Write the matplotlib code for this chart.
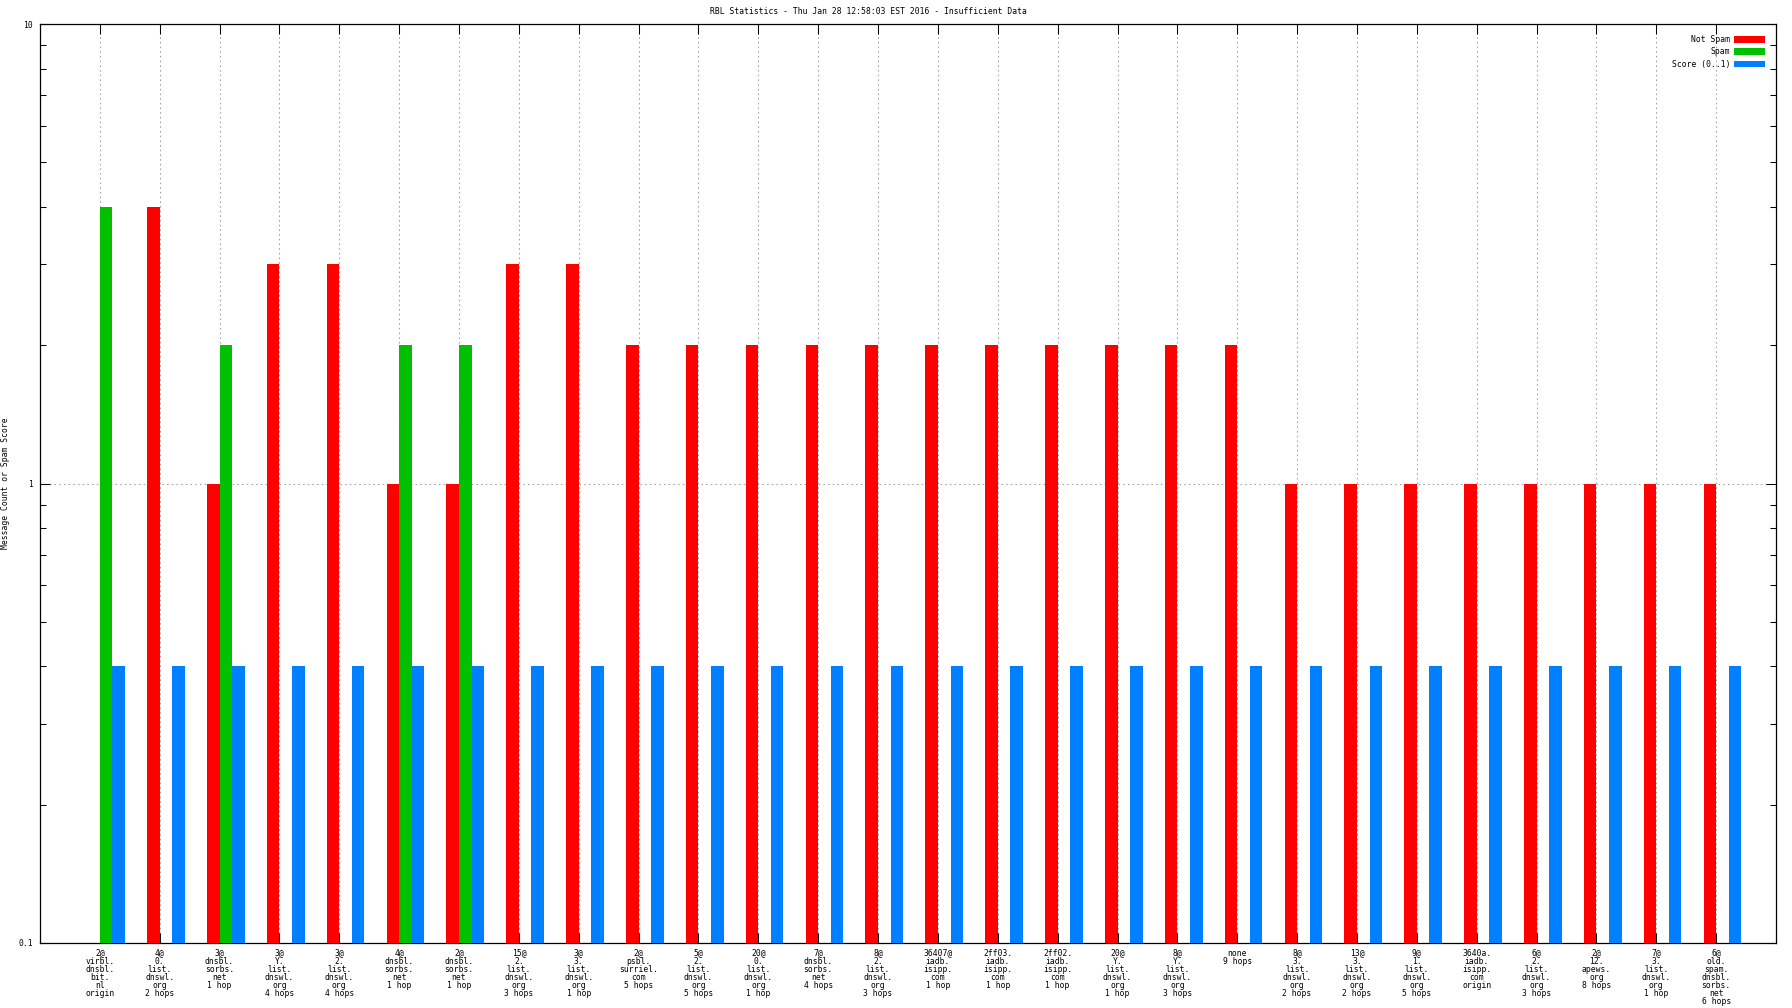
import matplotlib
matplotlib.use('Agg')
import matplotlib.pyplot as plt
import matplotlib.ticker as mticker
import numpy as np

# x categories (rbl hit @ list, hop)
labels = [
    "2@\nvirbl.\ndnsbl.\nbit.\nnl\norigin",
    "4@\n0.\nlist.\ndnswl.\norg\n2 hops",
    "3@\ndnsbl.\nsorbs.\nnet\n1 hop",
    "3@\nY.\nlist.\ndnswl.\norg\n4 hops",
    "3@\n2.\nlist.\ndnswl.\norg\n4 hops",
    "4@\ndnsbl.\nsorbs.\nnet\n1 hop",
    "2@\ndnsbl.\nsorbs.\nnet\n1 hop",
    "15@\n2.\nlist.\ndnswl.\norg\n3 hops",
    "3@\n3.\nlist.\ndnswl.\norg\n1 hop",
    "2@\npsbl.\nsurriel.\ncom\n5 hops",
    "5@\n2.\nlist.\ndnswl.\norg\n5 hops",
    "20@\n0.\nlist.\ndnswl.\norg\n1 hop",
    "7@\ndnsbl.\nsorbs.\nnet\n4 hops",
    "8@\n2.\nlist.\ndnswl.\norg\n3 hops",
    "36407@\niadb.\nisipp.\ncom\n1 hop",
    "2ff03.\niadb.\nisipp.\ncom\n1 hop",
    "2ff02.\niadb.\nisipp.\ncom\n1 hop",
    "20@\nY.\nlist.\ndnswl.\norg\n1 hop",
    "8@\nY.\nlist.\ndnswl.\norg\n3 hops",
    "none\n9 hops",
    "8@\n3.\nlist.\ndnswl.\norg\n2 hops",
    "13@\n3.\nlist.\ndnswl.\norg\n2 hops",
    "9@\n1.\nlist.\ndnswl.\norg\n5 hops",
    "3640a.\niadb.\nisipp.\ncom\norigin",
    "6@\n2.\nlist.\ndnswl.\norg\n3 hops",
    "2@\n12.\napews.\norg\n8 hops",
    "7@\n3.\nlist.\ndnswl.\norg\n1 hop",
    "6@\nold.\nspam.\ndnsbl.\nsorbs.\nnet\n6 hops",
]

notSpam = [0, 4, 1, 3, 3, 1, 1, 3, 3, 2, 2, 2, 2, 2, 2, 2, 2, 2, 2, 2,
           1, 1, 1, 1, 1, 1, 1, 1]
spam = [4, 0, 2, 0, 0, 2, 2, 0, 0, 0, 0, 0, 0, 0, 0, 0, 0, 0, 0, 0,
        0, 0, 0, 0, 0, 0, 0, 0]
score = [0.4] * 28

title = "RBL Statistics - Thu Jan 28 12:58:03 EST 2016 - Insufficient Data"

fnt = 'DejaVu Sans Mono'
fs = 5.8
ymin = 0.1

def heights(v):
    # bars drawn up from the bottom of the log axis
    a = np.array(v, dtype=float)
    a[a <= 0] = np.nan
    return a - ymin

fig = plt.figure(figsize=(17.92, 10.08), dpi=100)
ax = fig.add_axes([40/1792, 1 - 943/1008, (1776 - 40)/1792, (943 - 24)/1008])

x = np.arange(len(labels))
w = 0.21
ax.bar(x - w, heights(notSpam), w, bottom=ymin, align='edge', color='#ff0000', label='Not Spam', zorder=3)
ax.bar(x, heights(spam), w, bottom=ymin, align='edge', color='#00c000', label='Spam', zorder=3)
ax.bar(x + w, heights(score), w, bottom=ymin, align='edge', color='#0080ff', label='Score (0..1)', zorder=3)

ax.set_yscale('log')
ax.set_ylim(ymin, 10)
ax.set_xlim(-1, len(labels))

ax.yaxis.set_major_locator(mticker.FixedLocator([0.1, 1, 10]))
ax.yaxis.set_major_formatter(mticker.FixedFormatter(['0.1', '1', '10']))
ax.yaxis.set_minor_locator(mticker.LogLocator(base=10, subs=np.arange(2, 10)))
ax.yaxis.set_minor_formatter(mticker.NullFormatter())

ax.set_xticks(x)
ax.set_xticklabels(labels, fontsize=fs, family=fnt, linespacing=0.86, va='top')
for lab in ax.get_yticklabels():
    lab.set_fontsize(fs)
    lab.set_family(fnt)

ax.tick_params(which='both', direction='in', top=True, right=True, width=0.75, color='black')
ax.tick_params(which='major', length=7)
ax.tick_params(which='minor', length=4)
ax.tick_params(axis='x', pad=4)
ax.tick_params(axis='y', pad=5)

for sp in ax.spines.values():
    sp.set_linewidth(0.9)

ax.grid(True, which='major', color='#a0a0a0', linestyle=(0, (1.5, 3)), linewidth=0.75, zorder=0)
ax.set_axisbelow(True)

ax.set_ylabel("Message Count or Spam Score", fontsize=fs, family=fnt)
ax.yaxis.set_label_coords(-0.017, 0.5)

fig.text(868/1792, 1 - 12/1008, title, ha='center', va='center', fontsize=fs, family=fnt)

leg = ax.legend(loc='upper right', frameon=False, markerfirst=False,
                prop={'family': fnt, 'size': fs}, handlelength=3.8, handleheight=0.9,
                labelspacing=0.4, handletextpad=0.5, borderaxespad=1.0)

plt.savefig('out.png', dpi=100)
